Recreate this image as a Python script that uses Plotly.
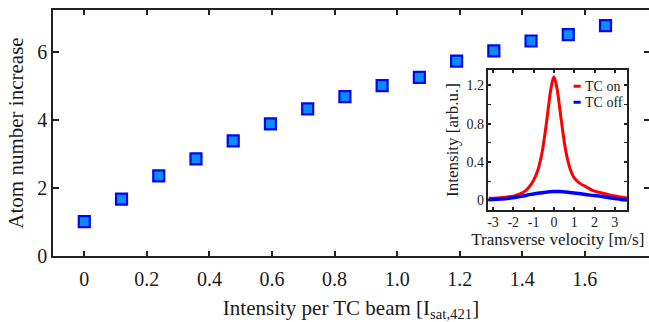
import plotly.graph_objects as go

# ---- main data ----
intensity = [0, 0.119, 0.238, 0.357, 0.476, 0.595, 0.714, 0.833, 0.952, 1.071,
             1.19, 1.309, 1.428, 1.547, 1.666]
atom_increase = [1.01, 1.67, 2.35, 2.85, 3.38, 3.88, 4.32, 4.68, 5.0, 5.24,
                 5.72, 6.02, 6.31, 6.5, 6.76]
x_tickvals = [0, 0.2, 0.4, 0.6, 0.8, 1.0, 1.2, 1.4, 1.6]
x_ticktext = ["0", "0.2", "0.4", "0.6", "0.8", "1.0", "1.2", "1.4", "1.6"]
y_tickvals = [0, 2, 4, 6]

# ---- inset data ----
v_on = [-3.22, -2.8, -2.4, -2.0, -1.7, -1.4, -1.2, -1.0, -0.8, -0.6, -0.45, -0.3, -0.15,
        0.0, 0.15, 0.3, 0.45, 0.6, 0.8, 1.0, 1.3, 1.6, 1.9, 2.2, 2.6, 3.0, 3.3, 3.6]
i_on = [0.022, 0.026, 0.034, 0.045, 0.065, 0.10, 0.145, 0.21, 0.31, 0.48, 0.68, 0.92, 1.16,
        1.29, 1.17, 0.94, 0.70, 0.50, 0.33, 0.235, 0.175, 0.14, 0.105, 0.085, 0.065, 0.045, 0.035, 0.025]
v_off = [-3.22, -2.8, -2.4, -2.0, -1.6, -1.2, -0.8, -0.4, 0.0, 0.3, 0.6, 1.0, 1.4, 1.8,
         2.2, 2.6, 3.0, 3.3, 3.6]
i_off = [0.008, 0.012, 0.018, 0.028, 0.042, 0.06, 0.075, 0.086, 0.092, 0.093, 0.088, 0.078,
         0.066, 0.055, 0.045, 0.033, 0.02, 0.01, 0.004]
inset_xticks = [-3, -2, -1, 0, 1, 2, 3]
inset_xticktext = ["-3", "-2", "-1", "0", "1", "2", "3"]
inset_yticks = [0, 0.4, 0.8, 1.2]
legend_labels = ["TC on", "TC off"]
legend_colors = ["#ff0000", "#0000ff"]

FONT = "Liberation Serif"
AX = "#222222"
TXT = "#1a1a1a"

fig = go.Figure()
fig.add_trace(go.Scatter(
    x=intensity, y=atom_increase, mode="markers", showlegend=False,
    marker=dict(symbol="square", size=11, color="#0a8cff",
                line=dict(color="#0008f0", width=2.2)),
    xaxis="x", yaxis="y"))
# invisible helper trace so the right-side tick axis is drawn
fig.add_trace(go.Scatter(x=[], y=[], xaxis="x", yaxis="y3", showlegend=False))

fig.add_trace(go.Scatter(
    x=v_on, y=i_on, mode="lines", line=dict(color=legend_colors[0], width=3, shape="spline"),
    showlegend=False, xaxis="x2", yaxis="y2"))
fig.add_trace(go.Scatter(
    x=v_off, y=i_off, mode="lines", line=dict(color=legend_colors[1], width=3.5, shape="spline"),
    showlegend=False, xaxis="x2", yaxis="y2"))

common = dict(showgrid=False, zeroline=False, showline=True, linecolor=AX, linewidth=1.5,
              ticks="inside", tickcolor=AX, tickwidth=1.5)

fig.update_layout(
    width=649, height=322,
    margin=dict(l=53, r=0, t=10, b=66, autoexpand=False),
    paper_bgcolor="white", plot_bgcolor="white",
    font=dict(family=FONT, color=TXT),
    xaxis=dict(**common, domain=[0, 1], range=[-0.1, 1.805], mirror="ticks", ticklen=5,
               tickvals=x_tickvals, ticktext=x_ticktext, ticklabelstandoff=4,
               tickfont=dict(size=20, family=FONT, color=TXT), anchor="y",
               title=dict(text="Intensity per TC beam [I<sub>sat,421</sub>]",
                          font=dict(size=21, family=FONT, color=TXT), standoff=14)),
    yaxis=dict(**common, domain=[0, 1], range=[0, 7.22], ticklen=6,
               tickvals=y_tickvals, tickfont=dict(size=20, family=FONT, color=TXT), anchor="x",
               title=dict(text="Atom number increase",
                          font=dict(size=21, family=FONT, color=TXT), standoff=8)),
    yaxis3=dict(overlaying="y", side="right", anchor="x", range=[0, 7.22],
                showgrid=False, zeroline=False, showline=False, ticks="inside",
                ticklen=5, tickwidth=1.5, tickcolor=AX, tickvals=y_tickvals,
                showticklabels=False),
    xaxis2=dict(**common, domain=[0.7307, 0.9631], range=[-3.22, 3.6], mirror="ticks",
                ticklen=3, tickvals=inset_xticks, ticktext=inset_xticktext,
                ticklabelstandoff=-2,
                tickfont=dict(size=14, family=FONT, color=TXT), anchor="y2",
                title=dict(text="Transverse velocity [m/s]",
                           font=dict(size=17, family=FONT, color=TXT), standoff=0)),
    yaxis2=dict(**common, domain=[0.187, 0.756], range=[-0.1, 1.36], mirror="ticks",
                ticklen=3, tickvals=inset_yticks,
                minor=dict(dtick=0.2, tick0=0, ticks="inside", ticklen=3, tickcolor=AX,
                           tickwidth=1.2),
                tickfont=dict(size=14, family=FONT, color=TXT), anchor="x2",
                title=dict(text="Intensity [arb.u.]",
                           font=dict(size=17, family=FONT, color=TXT), standoff=3)),
)

# inset legend (decoration), placed in inset coordinates
leg_y = [1.19, 1.025]
for label, col, yy in zip(legend_labels, legend_colors, leg_y):
    fig.add_shape(type="line", xref="x2", yref="y2", x0=0.97, x1=1.32,
                  y0=yy, y1=yy, line=dict(color=col, width=3))
    fig.add_annotation(text=label, xref="x2", yref="y2", x=1.42, y=yy,
                       xanchor="left", yanchor="middle", showarrow=False,
                       font=dict(size=14, family=FONT, color=TXT))

fig.write_html("out.html", config={"displayModeBar": False},
               post_script="document.body.style.margin='0px';")
